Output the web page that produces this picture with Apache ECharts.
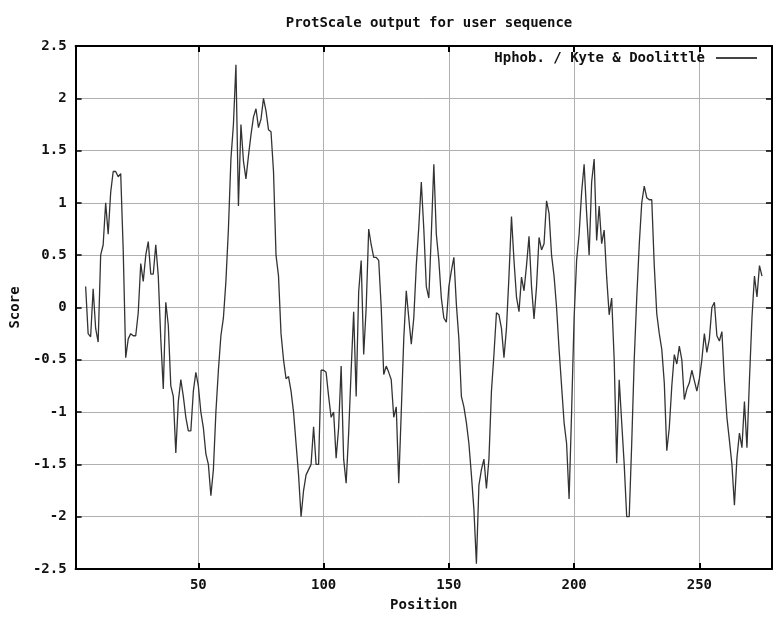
<!DOCTYPE html>
<html>
<head>
<meta charset="utf-8">
<script src="https://cdn.jsdelivr.net/npm/echarts@6.0.0/dist/echarts.min.js"></script>
<style>
html, body { margin: 0; padding: 0; background: #ffffff; }
#chart { width: 775px; height: 617px; }
</style>
</head>
<body>
<div id="chart"></div>
<script>
// ---- data ----
const chartTitle = 'ProtScale output for user sequence';
const seriesName = 'Hphob. / Kyte & Doolittle';
const xAxisName = 'Position';
const yAxisName = 'Score';
const firstPosition = 5;
const xTickValues = [50, 100, 150, 200, 250];
const xRange = [1, 279];
const yRange = [-2.5, 2.5];
const yStep = 0.5;
// Kyte & Doolittle hydropathy scores, positions 5..275
const scores = [
  0.2, -0.25, -0.28, 0.18, -0.2, -0.33, 0.5, 0.6, 1.0, 0.7,          // 5-14
  1.1, 1.3, 1.3, 1.25, 1.28, 0.55, -0.48, -0.3, -0.25, -0.27,        // 15-24
  -0.27, -0.05, 0.42, 0.25, 0.5, 0.63, 0.32, 0.32, 0.6, 0.3,         // 25-34
  -0.3, -0.78, 0.05, -0.17, -0.75, -0.85, -1.39, -0.9, -0.69, -0.85, // 35-44
  -1.05, -1.18, -1.18, -0.8, -0.62, -0.75, -1.0, -1.15, -1.4, -1.5,  // 45-54
  -1.8, -1.55, -1.0, -0.6, -0.27, -0.1, 0.25, 0.75, 1.42, 1.75,      // 55-64
  2.32, 0.97, 1.75, 1.4, 1.23, 1.45, 1.65, 1.82, 1.9, 1.72,          // 65-74
  1.8, 2.0, 1.88, 1.7, 1.68, 1.3, 0.5, 0.3, -0.25, -0.5,             // 75-84
  -0.68, -0.66, -0.8, -1.0, -1.3, -1.6, -2.0, -1.75, -1.6, -1.55,    // 85-94
  -1.5, -1.14, -1.5, -1.5, -0.6, -0.6, -0.62, -0.85, -1.05, -1.0,    // 95-104
  -1.44, -1.15, -0.56, -1.45, -1.68, -1.2, -0.6, -0.04, -0.85, 0.15, // 105-114
  0.45, -0.45, 0.0, 0.75, 0.6, 0.48, 0.48, 0.45, 0.0, -0.64,         // 115-124
  -0.56, -0.62, -0.69, -1.05, -0.95, -1.68, -1.0, -0.3, 0.16, -0.1,  // 125-134
  -0.35, -0.1, 0.4, 0.77, 1.2, 0.75, 0.2, 0.09, 0.7, 1.37,           // 135-144
  0.7, 0.45, 0.09, -0.1, -0.14, 0.2, 0.35, 0.48, 0.03, -0.3,         // 145-154
  -0.85, -0.95, -1.1, -1.3, -1.6, -1.93, -2.45, -1.7, -1.55, -1.45,  // 155-164
  -1.73, -1.45, -0.8, -0.45, -0.05, -0.07, -0.2, -0.48, -0.2, 0.3,   // 165-174
  0.87, 0.45, 0.1, -0.04, 0.29, 0.16, 0.4, 0.68, 0.2, -0.11,         // 175-184
  0.2, 0.67, 0.55, 0.61, 1.02, 0.9, 0.5, 0.3, 0.0, -0.4,             // 185-194
  -0.75, -1.1, -1.3, -1.83, -1.0, -0.1, 0.45, 0.7, 1.1, 1.37,        // 195-204
  0.9, 0.5, 1.2, 1.42, 0.64, 0.97, 0.61, 0.74, 0.29, -0.07,          // 205-214
  0.09, -0.5, -1.49, -0.69, -1.1, -1.5, -2.0, -2.0, -1.3, -0.5,      // 215-224
  0.09, 0.6, 1.0, 1.16, 1.05, 1.03, 1.03, 0.4, -0.06, -0.25,         // 225-234
  -0.4, -0.72, -1.37, -1.15, -0.75, -0.45, -0.54, -0.37, -0.5, -0.88,// 235-244
  -0.78, -0.72, -0.6, -0.7, -0.8, -0.68, -0.5, -0.25, -0.43, -0.3,   // 245-254
  0.0, 0.05, -0.27, -0.32, -0.23, -0.7, -1.05, -1.27, -1.5, -1.89,   // 255-264
  -1.44, -1.2, -1.34, -0.9, -1.34, -0.69, -0.1, 0.3, 0.1, 0.4,       // 265-274
  0.3                                                                // 275
];

// ---- chart ----
const FONT = "'DejaVu Sans Mono', 'Liberation Mono', monospace";
const txt = { fontFamily: FONT, fontSize: 14, fontWeight: 'bold', color: '#111' };
const seriesData = scores.map((v, i) => [firstPosition + i, v]);

const chart = echarts.init(document.getElementById('chart'), null, { renderer: 'canvas' });
chart.setOption({
  animation: false,
  backgroundColor: '#ffffff',
  title: {
    text: chartTitle,
    left: 424, top: 11, textAlign: 'center',
    textStyle: Object.assign({}, txt)
  },
  legend: {
    data: [seriesName],
    right: 18, top: 51, padding: 0,
    align: 'right',
    icon: 'rect',
    itemWidth: 41, itemHeight: 2, itemGap: 0,
    itemStyle: { color: '#444' },
    textStyle: Object.assign({ padding: [0, 6, 0, 0] }, txt)
  },
  grid: { left: 75, right: 3, top: 46, bottom: 43, containLabel: false },
  xAxis: [{
    type: 'value', min: xRange[0], max: xRange[1],
    name: xAxisName, nameLocation: 'middle', nameGap: 29,
    nameTextStyle: Object.assign({}, txt),
    axisLine: { show: true, onZero: false, lineStyle: { color: '#000', width: 2 } },
    axisTick: { show: true, inside: true, length: 6, customValues: xTickValues, lineStyle: { color: '#000', width: 2 } },
    axisLabel: { show: true, customValues: xTickValues, margin: 9, ...txt },
    splitLine: { show: true, lineStyle: { color: '#b0b0b0', width: 1 } }
  }, {
    type: 'value', position: 'top', min: xRange[0], max: xRange[1],
    axisLine: { show: true, onZero: false, lineStyle: { color: '#000', width: 2 } },
    axisTick: { show: true, inside: true, length: 6, customValues: xTickValues, lineStyle: { color: '#000', width: 2 } },
    axisLabel: { show: false },
    splitLine: { show: false }
  }],
  yAxis: [{
    type: 'value', min: yRange[0], max: yRange[1], interval: yStep,
    name: yAxisName, nameLocation: 'middle', nameGap: 46, nameRotate: 90,
    nameTextStyle: Object.assign({}, txt),
    axisLine: { show: true, onZero: false, lineStyle: { color: '#000', width: 2 } },
    axisTick: { show: true, inside: true, length: 6, lineStyle: { color: '#000', width: 1.5 } },
    axisLabel: { show: true, margin: 9, ...txt },
    splitLine: { show: true, lineStyle: { color: '#b0b0b0', width: 1 } }
  }, {
    type: 'value', position: 'right', min: yRange[0], max: yRange[1], interval: yStep,
    axisLine: { show: true, onZero: false, lineStyle: { color: '#000', width: 2 } },
    axisTick: { show: true, inside: true, length: 6, lineStyle: { color: '#000', width: 1.5 } },
    axisLabel: { show: false },
    splitLine: { show: false }
  }],
  series: [{
    name: seriesName,
    type: 'line',
    xAxisIndex: 0, yAxisIndex: 0,
    data: seriesData,
    symbol: 'none',
    showSymbol: false,
    smooth: false,
    lineStyle: { color: '#333', width: 1.3 },
    itemStyle: { color: '#333' }
  }]
});
</script>
</body>
</html>
